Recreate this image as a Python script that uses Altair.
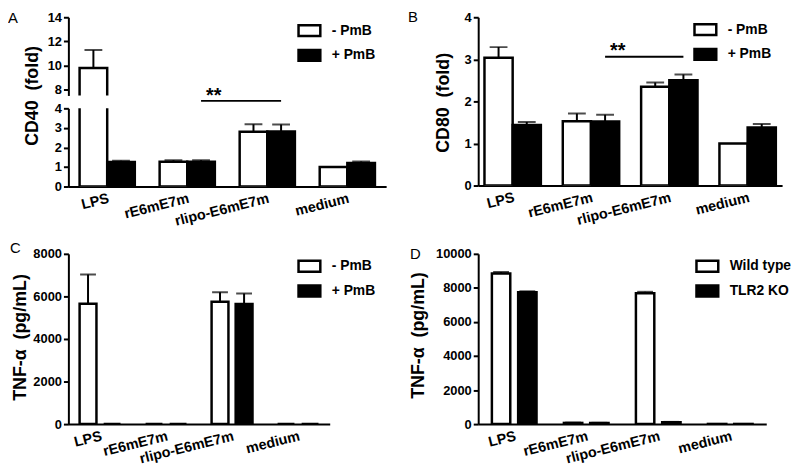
import altair as alt
import pandas as pd

FONT = "Liberation Sans"

categories = ["LPS", "rE6mE7m", "rlipo-E6mE7m", "medium"]
pmb_groups = ["- PmB", "+ PmB"]
ko_groups = ["Wild type", "TLR2 KO"]

# Panel A: CD40 (fold)
cd40_minus = [9.78, 1.27, 2.80, 1.00]
cd40_minus_err = [1.50, 0.08, 0.38, 0.0]
cd40_plus = [1.25, 1.27, 2.82, 1.21]
cd40_plus_err = [0.07, 0.07, 0.35, 0.07]

# Panel B: CD80 (fold)
cd80_minus = [3.04, 1.53, 2.35, 1.00]
cd80_minus_err = [0.25, 0.18, 0.10, 0.0]
cd80_plus = [1.44, 1.52, 2.50, 1.38]
cd80_plus_err = [0.07, 0.16, 0.14, 0.08]

# Panel C: TNF-alpha (pg/mL), -/+ PmB
tnf_pmb_minus = [5650, 0, 5750, 0]
tnf_pmb_minus_err = [1380, 0, 450, 0]
tnf_pmb_plus = [0, 0, 5640, 0]
tnf_pmb_plus_err = [0, 0, 500, 0]

# Panel D: TNF-alpha (pg/mL), wild type / TLR2 KO
tnf_wt = [8850, 70, 7680, 10]
tnf_wt_err = [80, 15, 90, 0]
tnf_ko = [7740, 60, 110, 10]
tnf_ko_err = [60, 15, 20, 0]

# significance bracket (from rE6mE7m "+" to rlipo "+")
sig_cats = ["rE6mE7m", "rlipo-E6mE7m"]


def make_df(groups, minus, minus_err, plus, plus_err):
    rows = []
    for i, c in enumerate(categories):
        rows.append(dict(cat=c, grp=groups[0], val=minus[i], top=minus[i] + minus_err[i]))
        rows.append(dict(cat=c, grp=groups[1], val=plus[i], top=plus[i] + plus_err[i]))
    return pd.DataFrame(rows)


def y_axis(values, title, title_x, title_y):
    kw = dict(
        values=values, grid=False, domainColor="black", domainWidth=2,
        tickColor="black", tickWidth=2, tickSize=5, format="d",
        labelFont=FONT, labelFontSize=13, labelFontWeight="bold", labelColor="black",
        labelPadding=2, labelFlush=False, labelOverlap=False,
    )
    if title is None:
        kw["title"] = None
    else:
        kw.update(title=title, titleFont=FONT, titleFontSize=18, titleFontWeight="bold",
                  titleColor="black", titleX=title_x, titleY=title_y, titleAngle=270,
                  titleAlign="center", titleBaseline="bottom")
    return alt.Axis(**kw)


def x_axis(show):
    if not show:
        return None
    return alt.Axis(title=None, ticks=False, domainColor="black", domainWidth=2,
                    labelAngle=-14, labelAlign="right", labelBaseline="top",
                    labelFont=FONT, labelFontSize=14.5, labelFontWeight="bold",
                    labelColor="black", labelPadding=5)


def legend(show, lx, ly):
    if not show:
        return None
    return alt.Legend(title=None, orient="none", legendX=lx, legendY=ly,
                      symbolType="M-1,-0.5H1V0.5H-1Z", symbolSize=484,
                      symbolStrokeColor="black", symbolStrokeWidth=2.5,
                      labelFont=FONT, labelFontSize=14, labelFontWeight="bold",
                      labelColor="black", labelOffset=10, rowPadding=2, padding=0)


def panel(df, groups, width, height, ydom, yticks, pi, po, gap, cap,
          show_x=True, ytitle=None, tx=0, ty=0, leg=None, letter=None, extra=None):
    xs = alt.Scale(type="band", domain=categories, paddingInner=pi, paddingOuter=po)
    os_ = alt.Scale(type="band", domain=groups, paddingInner=gap, paddingOuter=0)
    ys = alt.Scale(domain=ydom, nice=False, zero=False)
    yax = y_axis(yticks, ytitle, tx, ty)
    X = alt.X("cat:N", sort=categories, scale=xs, axis=x_axis(show_x))
    XO = alt.XOffset("grp:N", sort=groups, scale=os_)
    base = alt.Chart(df)
    bars = base.mark_bar(stroke="black", strokeWidth=2.5, clip=True).encode(
        x=X, xOffset=XO,
        y=alt.Y("val:Q", scale=ys, axis=yax),
        fill=alt.Fill("grp:N", sort=groups,
                      scale=alt.Scale(domain=groups, range=["white", "black"]),
                      legend=legend(leg is not None, *(leg or (0, 0)))),
    )
    errdf = base.transform_filter("datum.top > datum.val")
    stem = errdf.mark_rule(color="black", strokeWidth=2, clip=True).encode(
        x=X, xOffset=XO, y=alt.Y("val:Q", scale=ys, axis=yax), y2="top:Q")
    caps = errdf.mark_tick(color="black", thickness=2, size=cap, clip=True).encode(
        x=X, xOffset=XO, y=alt.Y("top:Q", scale=ys, axis=yax))
    layers = [bars, stem, caps]
    if extra is not None:
        sy, stary = extra
        sdf = pd.DataFrame({"cat": sig_cats, "grp": [groups[1]] * 2, "v": [sy, sy]})
        line = alt.Chart(sdf).mark_line(color="black", strokeWidth=2).encode(
            x=X, xOffset=XO, y=alt.Y("v:Q", scale=ys, axis=yax))
        tdf = pd.DataFrame({"cat": [sig_cats[0]], "grp": [groups[1]], "v": [stary], "t": ["**"]})
        star = alt.Chart(tdf).mark_text(font=FONT, fontSize=20, fontWeight="bold",
                                        align="left", baseline="middle", dx=5,
                                        color="black").encode(
            x=X, xOffset=XO, y=alt.Y("v:Q", scale=ys, axis=yax), text="t:N")
        layers += [line, star]
    if letter is not None:
        lt, lx, ly = letter
        ldf = pd.DataFrame({"t": [lt]})
        ltext = alt.Chart(ldf).mark_text(font=FONT, fontSize=15, align="left",
                                         baseline="alphabetic", color="black").encode(
            x=alt.value(lx), y=alt.value(ly), text="t:N")
        layers.append(ltext)
    return alt.layer(*layers).properties(width=width, height=height)


dfA = make_df(pmb_groups, cd40_minus, cd40_minus_err, cd40_plus, cd40_plus_err)
dfB = make_df(pmb_groups, cd80_minus, cd80_minus_err, cd80_plus, cd80_plus_err)
dfC = make_df(pmb_groups, tnf_pmb_minus, tnf_pmb_minus_err, tnf_pmb_plus, tnf_pmb_plus_err)
dfD = make_df(ko_groups, tnf_wt, tnf_wt_err, tnf_ko, tnf_ko_err)

A_top = panel(dfA, pmb_groups, 321, 79, [7.5, 14], [8, 10, 12, 14], 0.31, 0.14, 0.0, 18,
              show_x=False, leg=(231, 1), letter=("A", -61, 6), extra=(7.05, 7.45))
A_bot = panel(dfA, pmb_groups, 321, 79, [0, 4], [0, 1, 2, 3, 4], 0.31, 0.14, 0.0, 18,
              ytitle="CD40\u00a0\u00a0(fold)", tx=-27, ty=-13)
B = panel(dfB, pmb_groups, 307, 170, [0, 4], [0, 1, 2, 3, 4], 0.28, 0.08, 0.0, 18,
          ytitle="CD80\u00a0\u00a0(fold)", tx=-26, ty=86, leg=(217, 0),
          letter=("B", -71, 5), extra=(3.06, 3.2))
C = panel(dfC, pmb_groups, 264, 172, [0, 8000], [0, 2000, 4000, 6000, 8000], 0.38, 0.17, 0.3, 16,
          ytitle="TNF-\u03b1\u00a0\u00a0(pg/mL)", tx=-39, ty=84, leg=(231, 0),
          letter=("C", -59, -1))
D = panel(dfD, ko_groups, 291, 172, [0, 10000], [0, 2000, 4000, 6000, 8000, 10000], 0.38, 0.19, 0.3, 16,
          ytitle="TNF-\u03b1\u00a0\u00a0(pg/mL)", tx=-51, ty=82, leg=(219, 0),
          letter=("D", -69, 5))

A = alt.vconcat(A_top, A_bot, spacing=13, bounds="flush").resolve_scale(
    fill="independent", xOffset="independent")
chart = alt.concat(A, B, C, D, columns=2, spacing={"row": 13, "column": 22}).resolve_scale(
    fill="independent", xOffset="independent"
).properties(
    padding={"left": 0, "top": 0, "right": 0, "bottom": 0}, background="white"
).configure_view(stroke=None)

chart.save("out.html", embed_options={"renderer": "svg", "actions": False})
